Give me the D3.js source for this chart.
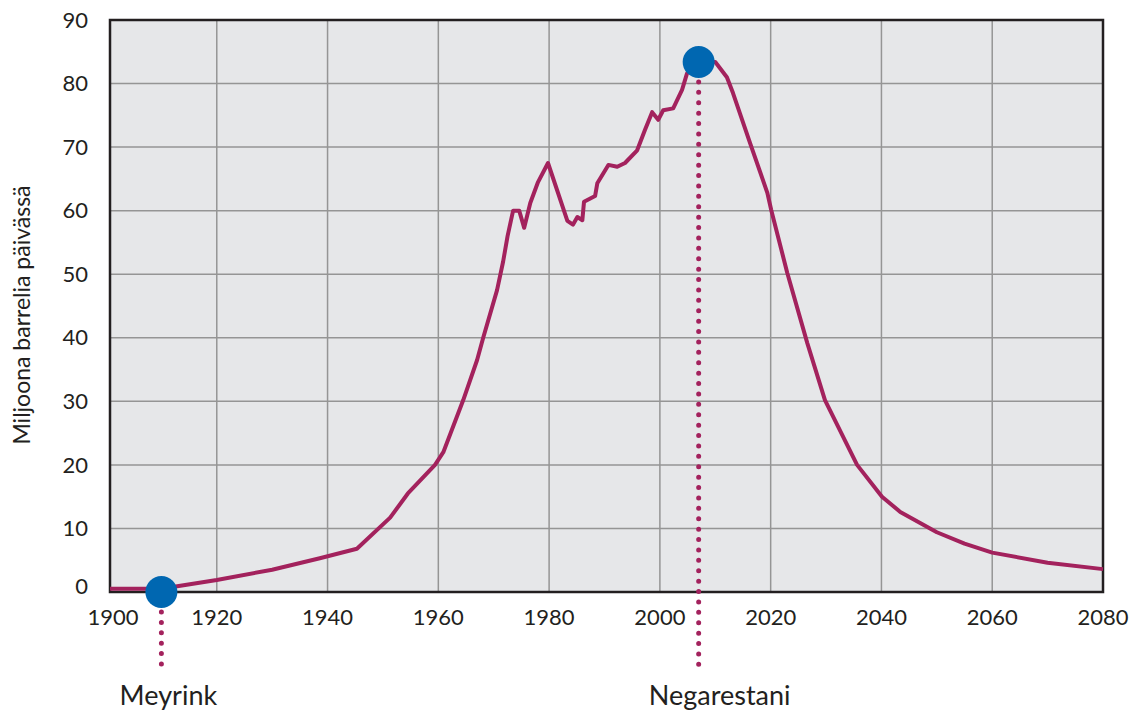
<!DOCTYPE html>
<html>
<head>
<meta charset="utf-8">
<script src="https://cdn.jsdelivr.net/npm/d3@7"></script>
<style>
  body { margin: 0; background: #fff; }
  svg text { font-family: Lato, "Open Sans", sans-serif; fill: #231f20; }
</style>
</head>
<body>
<div id="chart"></div>
<script>
// production, million barrels per day
var years = [1900, 1910, 1920, 1930, 1938.6, 1945.3, 1951.3, 1954.5, 1959.4, 1960.9, 1964.5, 1967, 1968.1, 1970.6, 1971.7, 1972.5,
  1973.5, 1974.6, 1975.5, 1976.6, 1978, 1979.8, 1983.3, 1984.3, 1985.1, 1986, 1986.3, 1988.3, 1988.7, 1990.7, 1992.3, 1993.7,
  1995.9, 1997.3, 1998.6, 1999.7, 2000.6, 2002.4, 2004, 2004.9, 2007, 2010, 2012.1, 2013.2, 2016.3, 2019.4, 2020.1, 2023,
  2026.6, 2029.8, 2035.6, 2040.1, 2043.4, 2050, 2055, 2060, 2070, 2080]
var values = [0.5, 0.5, 1.9, 3.5, 5.3, 6.8, 11.7, 15.5, 20, 22, 30.2, 36.5, 40, 47.5, 52, 56,
  60, 60, 57.3, 61.2, 64.5, 67.5, 58.4, 57.8, 59, 58.5, 61.4, 62.3, 64.3, 67.2, 66.9, 67.5,
  69.5, 72.7, 75.5, 74.3, 75.8, 76.1, 79, 81.6, 83.4, 83.4, 81, 78.5, 70.6, 62.8, 60.1, 50.2,
  39.2, 30.2, 20, 15, 12.6, 9.4, 7.6, 6.2, 4.6, 3.6]
var markers = [{ year: 1910, value: 0, label: 'Meyrink' }, { year: 2007, value: 83.4, label: 'Negarestani' }]
var xTicks = [1900, 1920, 1940, 1960, 1980, 2000, 2020, 2040, 2060, 2080]
var yTicks = [0, 10, 20, 30, 40, 50, 60, 70, 80, 90]

var width = 1132
var height = 711
var frame = { left: 110, right: 1103, top: 20, bottom: 592 }
var labelShift = [7, 21]

var svg = d3.select('#chart').append('svg')
  .attr('width', width)
  .attr('height', height)

var x = d3.scaleLinear().domain([1900, 2080]).range([106, frame.right])
var y = d3.scaleLinear().domain([0, 90]).range([frame.bottom, frame.top])

svg.append('clipPath')
  .attr('id', 'plot-clip')
  .append('rect')
  .attr('x', frame.left)
  .attr('y', 0)
  .attr('width', frame.right - frame.left + 4)
  .attr('height', frame.bottom + 4)

// background
svg.append('rect')
  .attr('x', frame.left)
  .attr('y', frame.top)
  .attr('width', frame.right - frame.left)
  .attr('height', frame.bottom - frame.top)
  .attr('fill', '#e6e7e9')

// grid
svg.append('g')
  .selectAll('line')
  .data(xTicks.slice(1, -1))
  .enter().append('line')
  .attr('x1', function (d) { return x(d) })
  .attr('x2', function (d) { return x(d) })
  .attr('y1', frame.top)
  .attr('y2', frame.bottom)
  .attr('stroke', '#959595')
  .attr('stroke-width', 1.5)

svg.append('g')
  .selectAll('line')
  .data(yTicks.slice(1, -1))
  .enter().append('line')
  .attr('y1', function (d) { return y(d) })
  .attr('y2', function (d) { return y(d) })
  .attr('x1', frame.left)
  .attr('x2', frame.right)
  .attr('stroke', '#959595')
  .attr('stroke-width', 1.5)

// frame
svg.append('rect')
  .attr('x', frame.left)
  .attr('y', frame.top)
  .attr('width', frame.right - frame.left)
  .attr('height', frame.bottom - frame.top)
  .attr('fill', 'none')
  .attr('stroke', '#231f20')
  .attr('stroke-width', 2.5)

// tick labels
svg.append('g')
  .selectAll('text')
  .data(yTicks)
  .enter().append('text')
  .attr('x', 88)
  .attr('y', function (d) { return y(d) - (d === 0 ? 6 : 0) })
  .attr('dy', '0.35em')
  .attr('text-anchor', 'end')
  .attr('font-size', 22)
  .text(function (d) { return d })

svg.append('g')
  .selectAll('text')
  .data(xTicks)
  .enter().append('text')
  .attr('x', function (d) { return Math.max(x(d), 113) })
  .attr('y', 617)
  .attr('dy', '0.35em')
  .attr('text-anchor', 'middle')
  .attr('font-size', 22)
  .text(function (d) { return d })

svg.append('text')
  .attr('transform', 'translate(30,315) rotate(-90)')
  .attr('text-anchor', 'middle')
  .attr('font-size', 23)
  .text('Miljoona barrelia päivässä')

// dotted leaders
svg.append('g')
  .selectAll('line')
  .data(markers)
  .enter().append('line')
  .attr('x1', function (d) { return x(d.year) })
  .attr('x2', function (d) { return x(d.year) })
  .attr('y1', function (d) { return y(d.value) + 20 })
  .attr('y2', 670)
  .attr('stroke', '#a3225d')
  .attr('stroke-width', 5)
  .attr('stroke-linecap', 'round')
  .attr('stroke-dasharray', '0 10.4')

var line = d3.line()
  .x(function (d, i) { return x(years[i]) })
  .y(function (d) { return y(d) })

svg.append('path')
  .datum(values)
  .attr('d', line)
  .attr('clip-path', 'url(#plot-clip)')
  .attr('fill', 'none')
  .attr('stroke', '#a3225d')
  .attr('stroke-width', 4)
  .attr('stroke-linejoin', 'round')

svg.append('g')
  .selectAll('circle')
  .data(markers)
  .enter().append('circle')
  .attr('cx', function (d) { return x(d.year) })
  .attr('cy', function (d) { return y(d.value) })
  .attr('r', 16)
  .attr('fill', '#0067b1')

svg.append('g')
  .selectAll('text')
  .data(markers)
  .enter().append('text')
  .attr('x', function (d, i) { return x(d.year) + labelShift[i] })
  .attr('y', 705)
  .attr('text-anchor', 'middle')
  .attr('font-size', 27)
  .text(function (d) { return d.label })
</script>
</body>
</html>
